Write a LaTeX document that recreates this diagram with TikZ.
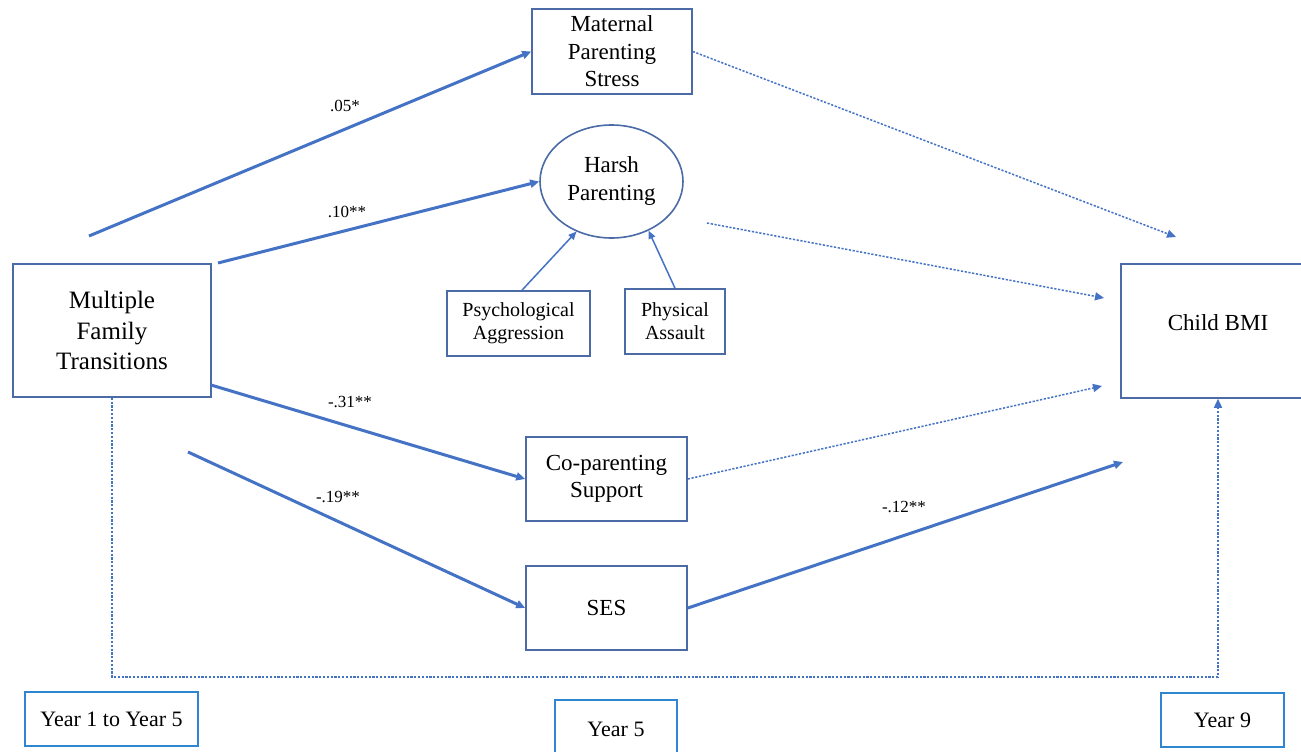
\documentclass[tikz,border=0pt]{standalone}
\usepackage{fontspec}
\setmainfont{Liberation Serif}
\usetikzlibrary{arrows.meta,shapes.geometric,calc}
\definecolor{boxcol}{HTML}{4A6BA6}
\definecolor{arrcol}{HTML}{4472C4}
\definecolor{yearcol}{HTML}{2E86D1}
\begin{document}
\begin{tikzpicture}[x=1pt,y=-1pt,
  mainbox/.style={draw=boxcol,line width=1.6pt,rectangle,align=center,inner sep=0pt,font=\fontsize{23}{27.5}\selectfont},
  smallbox/.style={draw=boxcol,line width=1.6pt,rectangle,align=center,inner sep=0pt,font=\fontsize{20}{23}\selectfont},
  yearbox/.style={draw=yearcol,line width=1.6pt,rectangle,align=center,inner sep=0pt,font=\fontsize{22}{26}\selectfont},
  coef/.style={inner sep=0pt,font=\fontsize{17}{20}\selectfont},
  solidarr/.style={draw=arrcol,line width=3pt,-{Triangle[length=9pt,width=8pt]}},
  thinarr/.style={draw=arrcol,line width=1.5pt,-{Triangle[length=8pt,width=7pt]}},
  dotarr/.style={draw=arrcol,line width=1.5pt,dash pattern=on 2.2pt off 1.6pt,-{Triangle[length=9pt,width=8pt]}}
]
\useasboundingbox (0,0) rectangle (1301,752);
\clip (0,0) rectangle (1301,752);
\fill[white] (0,0) rectangle (1301,752);

% nodes
\node[mainbox,minimum width=160pt,minimum height=85pt] (mps) at (612,51.5) {Maternal\\Parenting\\Stress};
\node[draw=boxcol,line width=1.6pt,ellipse,minimum width=143pt,minimum height=113pt,inner sep=0pt,align=center,font=\fontsize{23}{28}\selectfont] (harsh) at (611.5,181.5) {Harsh\\Parenting};
\node[mainbox,minimum width=198pt,minimum height=133pt,font=\fontsize{25}{30.5}\selectfont] (mft) at (112,330.5) {Multiple\\Family\\Transitions};
\node[smallbox,minimum width=143pt,minimum height=65pt] (psy) at (518.5,323.5) {Psychological\\Aggression};
\node[smallbox,minimum width=100pt,minimum height=65pt] (phy) at (675,321.5) {Physical\\Assault};
\node[mainbox,minimum width=161pt,minimum height=84pt] (cop) at (606.5,479) {Co-parenting\\Support};
\node[mainbox,minimum width=161pt,minimum height=84pt] (ses) at (606.5,608) {SES};
\node[mainbox,minimum width=194pt,minimum height=134pt,text depth=16pt] (bmi) at (1218,331) {Child BMI};
\node[yearbox,minimum width=173pt,minimum height=54pt] (y15) at (111.5,719) {Year 1 to Year 5};
\node[yearbox,minimum width=122pt,minimum height=58pt] (y5) at (616,729) {Year 5};
\node[yearbox,minimum width=123pt,minimum height=54pt] (y9) at (1222.5,720) {Year 9};

% free ends
\coordinate (s1) at (89,236);
\coordinate (s2) at (218,263);
\coordinate (s3) at (211,385);
\coordinate (s4) at (188,452);
\coordinate (s5) at (707,223);
\coordinate (e1) at (1123,462);
\coordinate (e2) at (1176,237);
\coordinate (e3) at (1104,298);
\coordinate (e4) at (1102,386);
\coordinate (br) at (1218,677);
\coordinate (bl) at (112,677);

% solid arrows
\draw[solidarr] (s1) -- (mps.west);
\draw[solidarr] (s2) -- (harsh.west);
\draw[solidarr] (s3) -- (cop.west);
\draw[solidarr] (s4) -- (ses.west);
\draw[solidarr] (ses.east) -- (e1);

% thin indicator arrows
\draw[thinarr] ($(psy.north)+(3.5,0)$) -- (harsh.235);
\draw[thinarr] (phy.north) -- (harsh.307);

% dotted arrows
\draw[dotarr] (mps.east) -- (e2);
\draw[dotarr] (s5) -- (e3);
\draw[dotarr] (cop.east) -- (e4);
\draw[dotarr] (mft.south) -- (bl) -- (br) -- (bmi.south);

% coefficients
\node[coef] (c1) at (345,106) {.05*};
\node[coef] (c2) at (347,212) {.10**};
\node[coef] (c3) at (350,402) {-.31**};
\node[coef] (c4) at (338,497) {-.19**};
\node[coef] (c5) at (904,507) {-.12**};
\end{tikzpicture}
\end{document}
